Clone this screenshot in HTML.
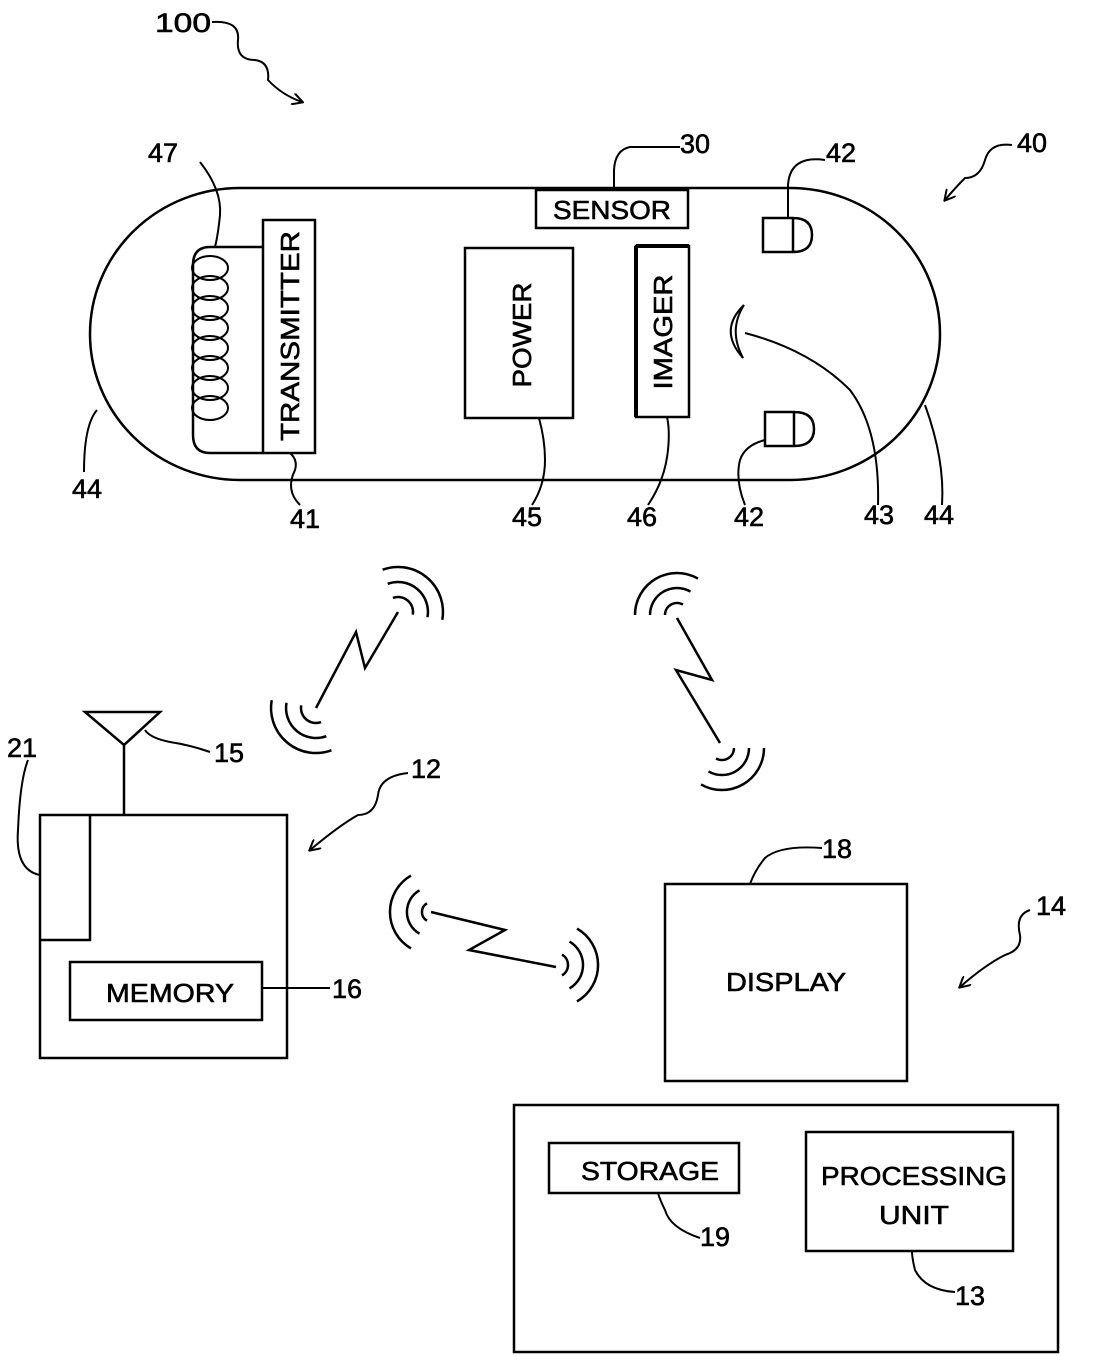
<!DOCTYPE html>
<html><head><style>html,body{margin:0;padding:0;background:#fff}svg{display:block}
text{font-family:"Liberation Sans",sans-serif;fill:#000;stroke:#000;stroke-width:0.6}</style></head><body>
<svg width="1096" height="1356" viewBox="0 0 1096 1356" xmlns="http://www.w3.org/2000/svg">
<defs><marker id="ah" markerWidth="12" markerHeight="12" refX="10" refY="6" orient="auto" markerUnits="userSpaceOnUse"><path d="M0,0 L11,6 L0,12" fill="none" stroke="#000" stroke-width="2"/></marker></defs>
<g fill="none" stroke="#000" stroke-width="2.5">
<rect x="90" y="188" width="850" height="292" rx="150" ry="146"/>
<rect x="536" y="190" width="152" height="38"/>
<rect x="263" y="220" width="52" height="233"/>
<rect x="465" y="248" width="108" height="170"/>
<rect x="636" y="246" width="53" height="171"/>
<path d="M636,246 H689" stroke-width="4"/><path d="M636,246 V417" stroke-width="4"/>
<path d="M263,247 H210 Q193,247 193,265 V435 Q193,453 210,453 H263"/>
<g stroke-width="2">
<ellipse cx="210" cy="268" rx="18" ry="12"/><ellipse cx="210" cy="288" rx="18" ry="12"/><ellipse cx="210" cy="308" rx="18" ry="12"/><ellipse cx="210" cy="328" rx="18" ry="12"/><ellipse cx="210" cy="348" rx="18" ry="12"/><ellipse cx="210" cy="368" rx="18" ry="12"/><ellipse cx="210" cy="388" rx="18" ry="12"/><ellipse cx="210" cy="408" rx="18" ry="12"/>
</g>
<path d="M763,218 H793 V252 H763 Z M793,218 Q812,218 812,235 Q812,252 793,252"/>
<path d="M765,412 H794 V446 H765 Z M794,412 Q814,412 814,429 Q814,446 794,446"/>
<path d="M744,305 Q718,330 743,358" stroke-width="2"/><path d="M744,305 Q728,330 743,358" stroke-width="2"/>
<g stroke-width="2">
<path d="M200,162 Q222,190 220,215 Q218,235 215,247"/>
<path d="M680,147 H630 Q615,150 614,170 V190"/>
<path d="M825,160 Q790,155 788,185 V218"/>
<path d="M84,472 Q84,425 97,410"/>
<path d="M300,505 Q285,490 295,470 Q298,460 290,453"/>
<path d="M532,505 Q545,485 545,460 Q545,440 539,418"/>
<path d="M648,505 Q665,480 668,450 Q670,430 667,417"/>
<path d="M745,505 Q735,480 740,460 Q745,445 765,440"/>
<path d="M878,505 Q880,430 850,390 Q810,350 745,333"/>
<path d="M942,505 Q945,460 925,405"/>
<path d="M40,875 Q15,870 18,830 Q20,780 28,760"/>
<path d="M210,752 Q190,745 170,742 Q150,738 145,730"/>
<path d="M330,988 H262"/>
<path d="M822,848 Q780,845 765,858 Q755,870 750,884"/>
<path d="M700,1238 Q670,1228 665,1210 Q660,1200 658,1193"/>
<path d="M955,1292 Q925,1290 915,1270 Q912,1258 912,1251"/>
<path d="M212,22 Q240,20 238,40 Q236,60 255,60 Q270,62 268,80 Q282,95 302,102" marker-end="url(#ah)"/>
<path d="M1012,145 Q990,142 985,160 Q980,178 965,178 Q955,188 945,200" marker-end="url(#ah)"/>
<path d="M408,773 Q380,776 378,795 Q375,815 358,815 Q340,825 310,850" marker-end="url(#ah)"/>
<path d="M1030,910 Q1015,915 1020,935 Q1022,950 1005,955 Q985,965 960,987" marker-end="url(#ah)"/>
</g>
<rect x="40" y="815" width="247" height="243"/>
<path d="M40,940 H90 V815"/>
<rect x="70" y="962" width="192" height="58"/>
<path d="M124,815 V745 M85,712 H160 L124,745 Z"/>
<rect x="665" y="884" width="242" height="197"/>
<rect x="514" y="1105" width="544" height="247"/>
<rect x="549" y="1143" width="190" height="50"/>
<rect x="806" y="1132" width="207" height="119"/>
<g stroke-width="2.5">
<path d="M316,708 L356,632 L365,668 L398,612"/>
<path d="M392.9,597.9 A15,15 0 0 1 412.8,614.6 M387.7,583.8 A30,30 0 0 1 427.5,617.2 M382.6,569.7 A45,45 0 0 1 442.3,619.8"/>
<path d="M321.1,722.1 A15,15 0 0 1 301.2,705.4 M326.3,736.2 A30,30 0 0 1 286.5,702.8 M331.4,750.3 A45,45 0 0 1 271.7,700.2"/>
<path d="M677,618 L712,680 L676,670 L720,743"/>
<path d="M665,615 A12,12 0 0 1 683,604.6 M650,615 A27,27 0 0 1 690.5,591.6 M635,615 A42,42 0 0 1 698,578.6"/>
<path d="M734,748 A12,12 0 0 1 716,758.4 M749,748 A27,27 0 0 1 708.5,771.4 M764,748 A42,42 0 0 1 701,784.4"/>
<path d="M431,912 L505,930 L469,950 L556,967"/>
<path d="M427,920.7 A10,10 0 0 1 427,903.3 M419.5,933.7 A25,25 0 0 1 419.5,890.3 M411,948.4 A42,42 0 0 1 411,875.6"/>
<path d="M562,954.6 A12,12 0 0 1 562,975.4 M569.5,941.6 A27,27 0 0 1 569.5,988.4 M577,928.6 A42,42 0 0 1 577,1001.4"/>
</g>
</g>
<g font-size="26">
<text x="612" y="219" text-anchor="middle" textLength="118" lengthAdjust="spacingAndGlyphs">SENSOR</text>
<text transform="translate(299,336) rotate(-90)" text-anchor="middle" textLength="210" lengthAdjust="spacingAndGlyphs">TRANSMITTER</text>
<text transform="translate(531,335) rotate(-90)" text-anchor="middle" textLength="105" lengthAdjust="spacingAndGlyphs">POWER</text>
<text transform="translate(672,332) rotate(-90)" text-anchor="middle" textLength="115" lengthAdjust="spacingAndGlyphs">IMAGER</text>
<text x="170" y="1002" text-anchor="middle" textLength="128" lengthAdjust="spacingAndGlyphs">MEMORY</text>
<text x="786" y="991" text-anchor="middle" textLength="120" lengthAdjust="spacingAndGlyphs">DISPLAY</text>
<text x="650" y="1180" text-anchor="middle" textLength="138" lengthAdjust="spacingAndGlyphs">STORAGE</text>
<text x="914" y="1185" text-anchor="middle" textLength="186" lengthAdjust="spacingAndGlyphs">PROCESSING</text>
<text x="914" y="1224" text-anchor="middle" textLength="70" lengthAdjust="spacingAndGlyphs">UNIT</text>
</g>
<g font-size="27">
<text x="155" y="32" textLength="56" lengthAdjust="spacingAndGlyphs">100</text>
<text x="1017" y="152">40</text>
<text x="680" y="153">30</text>
<text x="826" y="162">42</text>
<text x="148" y="162">47</text>
<text x="72" y="498">44</text>
<text x="290" y="528">41</text>
<text x="512" y="526">45</text>
<text x="627" y="526">46</text>
<text x="734" y="526">42</text>
<text x="864" y="524">43</text>
<text x="924" y="524">44</text>
<text x="7" y="757">21</text>
<text x="214" y="762">15</text>
<text x="411" y="778">12</text>
<text x="822" y="858">18</text>
<text x="1036" y="915">14</text>
<text x="332" y="998">16</text>
<text x="700" y="1246">19</text>
<text x="955" y="1305">13</text>
</g>
</svg>
</body></html>
